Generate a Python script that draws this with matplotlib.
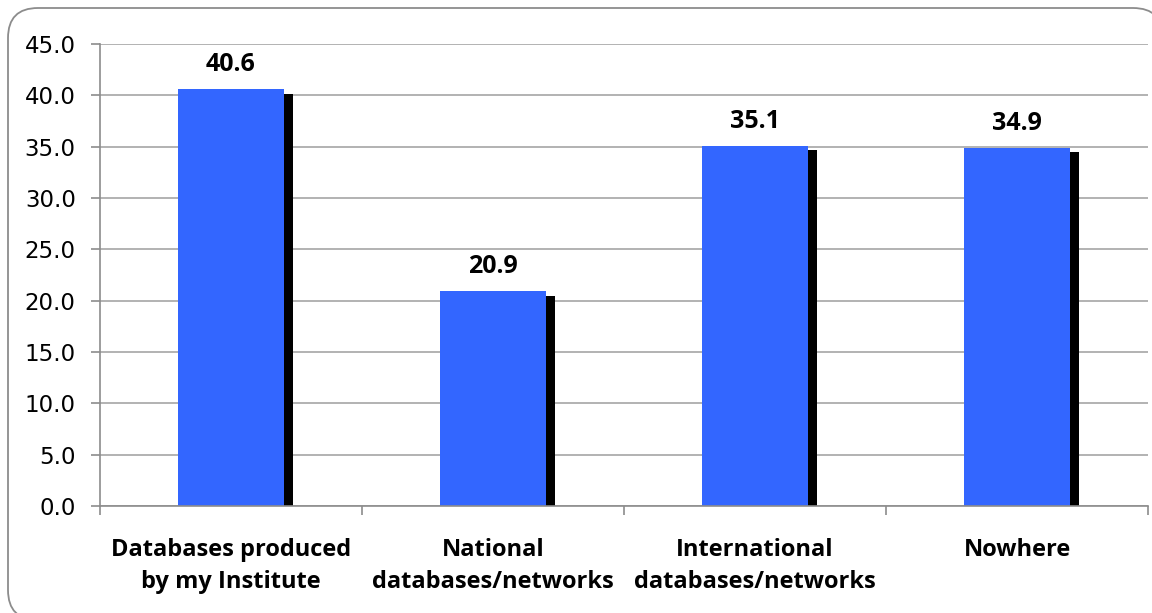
import matplotlib.pyplot as plt
import matplotlib.patches as mpatches
import matplotlib.patheffects as pe
from matplotlib.transforms import IdentityTransform

# Data
categories = ['Databases produced\nby my Institute',
              'National\ndatabases/networks',
              'International\ndatabases/networks',
              'Nowhere']
values = [40.6, 20.9, 35.1, 34.9]
yticks = [0, 5, 10, 15, 20, 25, 30, 35, 40, 45]

bar_color = '#3366FF'
grid_color = '#A6A6A6'
axis_color = '#8C8C8C'

fig = plt.figure(figsize=(11.52, 6.13), dpi=100)
ax = fig.add_axes([100 / 1152, 107 / 613, 1048 / 1152, 462 / 613])

# Rounded frame around the whole chart (pixel coordinates)
frame = mpatches.FancyBboxPatch((8, -7), 1155, 612, boxstyle='round,pad=0,rounding_size=30',
                                transform=IdentityTransform(), facecolor='white',
                                edgecolor='#8C8C8C', linewidth=1.3, zorder=-10)
fig.patches.append(frame)

x = [i + 0.5 for i in range(len(values))]
bars = ax.bar(x, values, width=0.405, color=bar_color, zorder=3,
              path_effects=[pe.SimplePatchShadow(offset=(6.5, -3.3), shadow_rgbFace='black', alpha=1.0),
                            pe.Normal()])

# Value labels above bars
for xi, v in zip(x, values):
    ax.annotate(f'{v:.1f}', (xi, v), xytext=(0, 13), textcoords='offset points',
                ha='center', va='baseline', fontsize=18, fontweight='bold',
                family='Open Sans', color='black')

ax.set_xlim(0, 4)
ax.set_ylim(0, 45)
ax.set_yticks(yticks)
ax.set_yticklabels([f'{t:.1f}' for t in yticks], fontsize=16.5, family='DejaVu Sans')
ax.yaxis.grid(True, color=grid_color, linewidth=1.2, zorder=0)
ax.set_axisbelow(True)

# Category labels on major ticks, separators on minor ticks
ax.set_xticks(x)
ax.set_xticklabels(categories, fontsize=17, fontweight='bold', family='Open Sans', linespacing=1.42)
ax.set_xticks([0, 1, 2, 3, 4], minor=True)
ax.tick_params(axis='x', which='major', length=0, pad=23)
ax.tick_params(axis='x', which='minor', length=6.5, color=axis_color, width=1.2)
ax.tick_params(axis='y', length=6.5, color=axis_color, width=1.2, pad=11)

for side in ['top', 'right']:
    ax.spines[side].set_visible(False)
for side in ['left', 'bottom']:
    ax.spines[side].set_color(axis_color)
    ax.spines[side].set_linewidth(1.2)
    ax.spines[side].set_zorder(4)

fig.savefig('out.png', dpi=100, facecolor='white')
